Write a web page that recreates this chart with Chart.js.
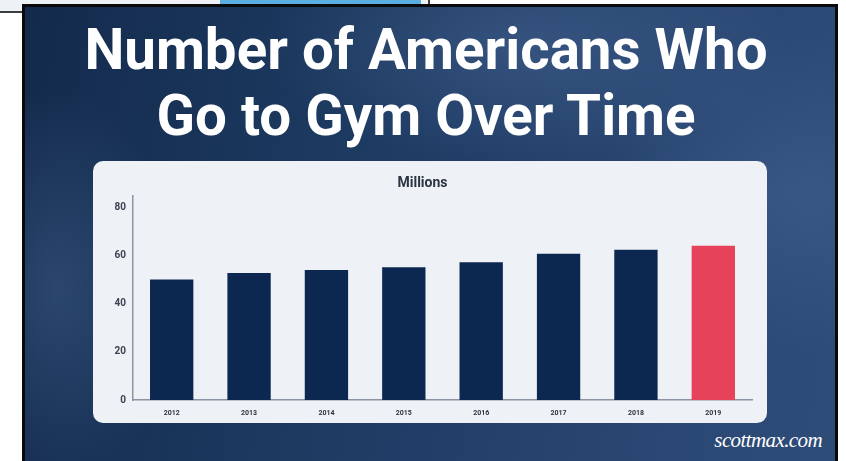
<!DOCTYPE html>
<html>
<head>
<meta charset="utf-8">
<script src="https://cdn.jsdelivr.net/npm/chart.js@4.4.1/dist/chart.umd.min.js"></script>
<style>
  html, body { margin: 0; padding: 0; background: #ffffff; width: 846px; height: 461px; overflow: hidden; }
  body { position: relative; font-family: Roboto, "Noto Sans", sans-serif; }
  #tab { position: absolute; left: 0; top: 0; width: 428px; height: 11px; background: #eef2f6;
         border-bottom: 2px solid #3c3c3c; border-right: 2px solid #3c3c3c; }
  #tabBlue { position: absolute; left: 220px; top: 0; width: 201px; height: 5px; background: #5aaee0; }
  #frame { position: absolute; left: 22px; top: 4px; width: 810px; height: 470px; border: 3px solid #0a0a0a;
    background:
      radial-gradient(ellipse 260px 120px at 62% 8%, rgba(90,120,165,0.35), rgba(90,120,165,0) 100%),
      radial-gradient(ellipse 120px 200px at 4% 60%, rgba(70,100,145,0.45), rgba(70,100,145,0) 100%),
      radial-gradient(ellipse 200px 160px at 96% 40%, rgba(80,110,155,0.35), rgba(80,110,155,0) 100%),
      linear-gradient(100deg, #132a4c 0%, #1a365b 28%, #213f69 55%, #2a4873 80%, #2e4c78 100%); }
  .title { position: absolute; left: 0; width: 852px; text-align: center; color: #ffffff; font-weight: 700;
           font-size: 56.5px; line-height: 66px; white-space: nowrap; }
  #t1 { top: 17px; }
  #t2 { top: 83px; }
  #panel { position: absolute; left: 93px; top: 161px; width: 674px; height: 262px; border-radius: 10px;
           background: #eef2f7; overflow: hidden; }
  #panel canvas { display: block; }
  #mark { position: absolute; right: 24px; top: 429px; color: #ffffff; font-family: "Liberation Serif", serif;
          font-style: italic; font-size: 21px; line-height: 22px; letter-spacing: -0.6px; white-space: nowrap; }
</style>
</head>
<body>
<div id="tab"></div>
<div id="tabBlue"></div>
<div id="frame"></div>
<div class="title" id="t1">Number of Americans Who</div>
<div class="title" id="t2">Go to Gym Over Time</div>
<div id="panel"><canvas id="chart" width="674" height="262"></canvas></div>
<div id="mark">scottmax.com</div>

<script>
// Gym members in the US, millions
const years = ['2012', '2013', '2014', '2015', '2016', '2017', '2018', '2019'];
const members = [50.2, 52.9, 54.1, 55.3, 57.3, 60.9, 62.5, 64.2];
const yTickValues = [0, 20, 40, 60, 80];
const unitLabel = 'Millions';

const navy = '#0c2850';
const highlight = '#e6435a';
const barColors = years.map((_, i) => (i === years.length - 1 ? highlight : navy));

new Chart(document.getElementById('chart'), {
  type: 'bar',
  data: {
    labels: years,
    datasets: [{
      data: members,
      backgroundColor: barColors,
      borderWidth: 0,
      categoryPercentage: 1,
      barPercentage: 0.56
    }]
  },
  options: {
    responsive: false,
    animation: false,
    layout: { padding: { left: 0, right: 15, top: 0, bottom: 3 } },
    plugins: {
      legend: { display: false },
      tooltip: { enabled: false },
      title: {
        display: true,
        text: unitLabel,
        color: '#2b3340',
        font: { family: 'Roboto', size: 14, weight: 'bold' },
        padding: { top: 14, bottom: 4 }
      }
    },
    scales: {
      x: {
        grid: { display: false, drawTicks: false },
        border: { display: true, color: '#8a94a3', width: 1.5 },
        ticks: { color: '#2b3340', font: { family: 'Roboto', size: 7, weight: 'bold' }, padding: 9, maxRotation: 0 },
        afterFit(scale) { scale.height = 20; }
      },
      y: {
        min: 0,
        max: 85,
        grid: { display: false, drawTicks: false },
        border: { display: true, color: '#8a94a3', width: 1.5 },
        ticks: { color: '#3a4250', font: { family: 'Roboto', size: 10, weight: 'bold' }, padding: 7 },
        afterBuildTicks(scale) { scale.ticks = yTickValues.map(v => ({ value: v })); },
        afterFit(scale) { scale.width = 40; }
      }
    }
  }
});
</script>
</body>
</html>
